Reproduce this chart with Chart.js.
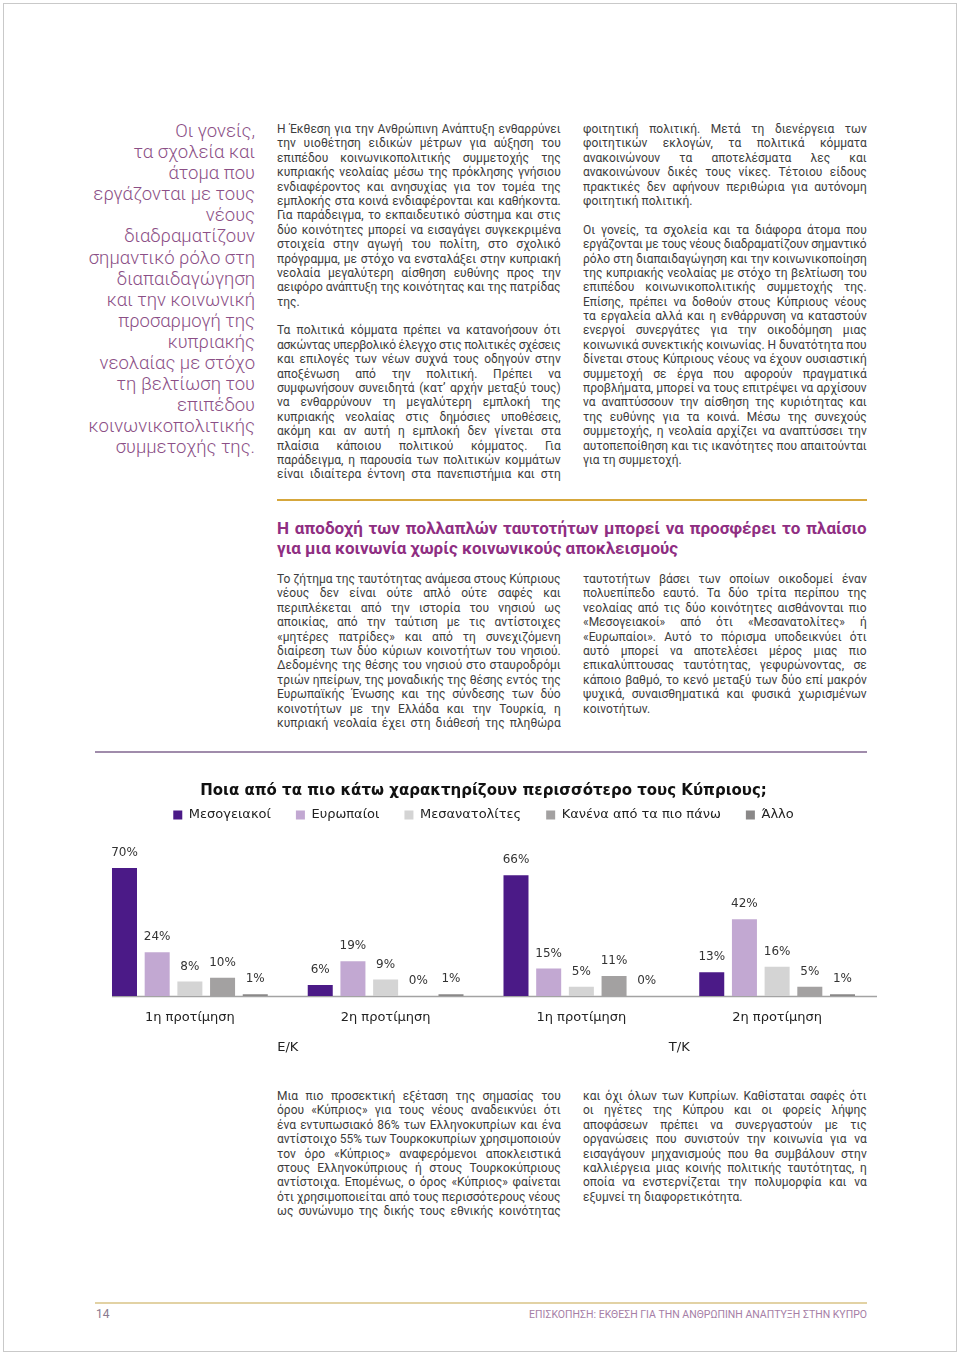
<!DOCTYPE html>
<html lang="el">
<head>
<meta charset="utf-8">
<title>Ποια από τα πιο κάτω χαρακτηρίζουν περισσότερο τους Κύπριους;</title>
<script src="https://cdn.jsdelivr.net/npm/chart.js@4.4.1/dist/chart.umd.min.js"></script>
<style>
  html, body { margin: 0; padding: 0; background: #fff; }
  body { width: 960px; height: 1356px; position: relative; overflow: hidden;
         font-family: Roboto, "Noto Sans", sans-serif; color: #3d3d3d; }
  .frame { position: absolute; left: 3px; top: 3px; width: 952px; height: 1347px; border: 1px solid #c9c9c9; }
  .quote { position: absolute; left: 40px; width: 215px; top: 121px; text-align: right;
           font-weight: 300; font-size: 18.5px; line-height: 21.1px; color: #8b4f86; white-space: nowrap; }
  .col { position: absolute; width: 284px; font-size: 12px; line-height: 14.4px; }
  .ln { white-space: nowrap; height: 14.4px; }
  .ln span { white-space: nowrap; }
  .heading { position: absolute; left: 277px; top: 518px; width: 590px; font-weight: 700;
             font-size: 17px; line-height: 20px; color: #8f2e82; }
  .heading .ln { height: 20px; }
  .rule { position: absolute; }
  .pageno { position: absolute; left: 96px; top: 1307px; font-size: 12px; color: #8a7a8e; }
  .running { position: absolute; left: 467px; width: 400px; top: 1308px; font-size: 10.5px;
             color: #a67ea6; text-align: right; white-space: nowrap; }
  #chartBox { position: absolute; left: 80px; top: 772px; width: 810px; height: 284px; }
</style>
</head>
<body>
<div class="frame"></div>

<div class="quote">Οι γονείς,<br>τα σχολεία και<br>άτομα που<br>εργάζονται με τους<br>νέους<br>διαδραματίζουν<br>σημαντικό ρόλο στη<br>διαπαιδαγώγηση<br>και την κοινωνική<br>προσαρμογή της<br>κυπριακής<br>νεολαίας με στόχο<br>τη βελτίωση του<br>επιπέδου<br>κοινωνικοπολιτικής<br>συμμετοχής της.</div>

<div class="col" id="colA" style="left:277px; top:122px;"></div>
<div class="col" id="colB" style="left:583px; top:122px;"></div>

<div class="rule" style="left:277px; top:499px; width:590px; height:2px; background:#d6a73c;"></div>

<div class="heading" id="heading"></div>

<div class="col" id="colC" style="left:277px; top:572px;"></div>
<div class="col" id="colD" style="left:583px; top:572px;"></div>

<div class="rule" style="left:95px; top:751px; width:772px; height:2px; background:#a08cab;"></div>

<div id="chartBox"><canvas id="identityChart"></canvas></div>

<div class="col" id="colE" style="left:277px; top:1089px;"></div>
<div class="col" id="colF" style="left:583px; top:1089px;"></div>

<div class="rule" style="left:95px; top:1302px; width:772px; height:2px; background:#e2d2a4;"></div>
<div class="pageno">14</div>
<div class="running" id="running">ΕΠΙΣΚΟΠΗΣΗ: ΕΚΘΕΣΗ ΓΙΑ ΤΗΝ ΑΝΘΡΩΠΙΝΗ ΑΝΑΠΤΥΞΗ ΣΤΗΝ ΚΥΠΡΟ</div>

<script>
/* =========================
   CHART DATA
========================= */
const categories = ["1η προτίμηση", "2η προτίμηση", "1η προτίμηση", "2η προτίμηση"];
const groups = ["Ε/Κ", "Τ/Κ"];

const seriesNames = ["Μεσογειακοί", "Ευρωπαίοι", "Μεσανατολίτες", "Κανένα από τα πιο πάνω", "Άλλο"];
const mediterranean = [70, 6, 66, 13];
const european = [24, 19, 15, 42];
const middleEastern = [8, 9, 5, 16];
const noneOfAbove = [10, 0, 11, 5];
const other = [1, 1, 0, 1];

const seriesColors = ["#4b1a87", "#c2a8d2", "#d4d4d4", "#a3a1a1", "#8a8888"];

/* =========================
   PAGE TEXT (one entry per printed line, "" = blank line)
========================= */
const colA = [
  "Η Έκθεση για την Ανθρώπινη Ανάπτυξη ενθαρρύνει",
  "την υιοθέτηση ειδικών μέτρων για αύξηση του",
  "επιπέδου κοινωνικοπολιτικής συμμετοχής της",
  "κυπριακής νεολαίας μέσω της πρόκλησης γνήσιου",
  "ενδιαφέροντος και ανησυχίας για τον τομέα της",
  "εμπλοκής στα κοινά ενδιαφέρονται και καθήκοντα.",
  "Για παράδειγμα, το εκπαιδευτικό σύστημα και στις",
  "δύο κοινότητες μπορεί να εισαγάγει συγκεκριμένα",
  "στοιχεία στην αγωγή του πολίτη, στο σχολικό",
  "πρόγραμμα, με στόχο να ενσταλάξει στην κυπριακή",
  "νεολαία μεγαλύτερη αίσθηση ευθύνης προς την",
  "αειφόρο ανάπτυξη της κοινότητας και της πατρίδας",
  "της.",
  "",
  "Τα πολιτικά κόμματα πρέπει να κατανοήσουν ότι",
  "ασκώντας υπερβολικό έλεγχο στις πολιτικές σχέσεις",
  "και επιλογές των νέων συχνά τους οδηγούν στην",
  "αποξένωση από την πολιτική. Πρέπει να",
  "συμφωνήσουν συνειδητά (κατ’ αρχήν μεταξύ τους)",
  "να ενθαρρύνουν τη μεγαλύτερη εμπλοκή της",
  "κυπριακής νεολαίας στις δημόσιες υποθέσεις,",
  "ακόμη και αν αυτή η εμπλοκή δεν γίνεται στα",
  "πλαίσια κάποιου πολιτικού κόμματος. Για",
  "παράδειγμα, η παρουσία των πολιτικών κομμάτων",
  "είναι ιδιαίτερα έντονη στα πανεπιστήμια και στη"
];
const colB = [
  "φοιτητική πολιτική. Μετά τη διενέργεια των",
  "φοιτητικών εκλογών, τα πολιτικά κόμματα",
  "ανακοινώνουν τα αποτελέσματα λες και",
  "ανακοινώνουν δικές τους νίκες. Τέτοιου είδους",
  "πρακτικές δεν αφήνουν περιθώρια για αυτόνομη",
  "φοιτητική πολιτική.",
  "",
  "Οι γονείς, τα σχολεία και τα διάφορα άτομα που",
  "εργάζονται με τους νέους διαδραματίζουν σημαντικό",
  "ρόλο στη διαπαιδαγώγηση και την κοινωνικοποίηση",
  "της κυπριακής νεολαίας με στόχο τη βελτίωση του",
  "επιπέδου κοινωνικοπολιτικής συμμετοχής της.",
  "Επίσης, πρέπει να δοθούν στους Κύπριους νέους",
  "τα εργαλεία αλλά και η ενθάρρυνση να καταστούν",
  "ενεργοί συνεργάτες για την οικοδόμηση μιας",
  "κοινωνικά συνεκτικής κοινωνίας. Η δυνατότητα που",
  "δίνεται στους Κύπριους νέους να έχουν ουσιαστική",
  "συμμετοχή σε έργα που αφορούν πραγματικά",
  "προβλήματα, μπορεί να τους επιτρέψει να αρχίσουν",
  "να αναπτύσσουν την αίσθηση της κυριότητας και",
  "της ευθύνης για τα κοινά. Μέσω της συνεχούς",
  "συμμετοχής, η νεολαία αρχίζει να αναπτύσσει την",
  "αυτοπεποίθηση και τις ικανότητες που απαιτούνται",
  "για τη συμμετοχή."
];
const headingLines = [
  "Η αποδοχή των πολλαπλών ταυτοτήτων μπορεί να προσφέρει το πλαίσιο",
  "για μια κοινωνία χωρίς κοινωνικούς αποκλεισμούς"
];
const colC = [
  "Το ζήτημα της ταυτότητας ανάμεσα στους Κύπριους",
  "νέους δεν είναι ούτε απλό ούτε σαφές και",
  "περιπλέκεται από την ιστορία του νησιού ως",
  "αποικίας, από την ταύτιση με τις αντίστοιχες",
  "«μητέρες πατρίδες» και από τη συνεχιζόμενη",
  "διαίρεση των δύο κύριων κοινοτήτων του νησιού.",
  "Δεδομένης της θέσης του νησιού στο σταυροδρόμι",
  "τριών ηπείρων, της μοναδικής της θέσης εντός της",
  "Ευρωπαϊκής Ένωσης και της σύνδεσης των δύο",
  "κοινοτήτων με την Ελλάδα και την Τουρκία, η",
  "κυπριακή νεολαία έχει στη διάθεσή της πληθώρα"
];
const colD = [
  "ταυτοτήτων βάσει των οποίων οικοδομεί έναν",
  "πολυεπίπεδο εαυτό. Τα δύο τρίτα περίπου της",
  "νεολαίας από τις δύο κοινότητες αισθάνονται πιο",
  "«Μεσογειακοί» από ότι «Μεσανατολίτες» ή",
  "«Ευρωπαίοι». Αυτό το πόρισμα υποδεικνύει ότι",
  "αυτό μπορεί να αποτελέσει μέρος μιας πιο",
  "επικαλύπτουσας ταυτότητας, γεφυρώνοντας, σε",
  "κάποιο βαθμό, το κενό μεταξύ των δύο επί μακρόν",
  "ψυχικά, συναισθηματικά και φυσικά χωρισμένων",
  "κοινοτήτων."
];
const colE = [
  "Μια πιο προσεκτική εξέταση της σημασίας του",
  "όρου «Κύπριος» για τους νέους αναδεικνύει ότι",
  "ένα εντυπωσιακό 86% των Ελληνοκυπρίων και ένα",
  "αντίστοιχο 55% των Τουρκοκυπρίων χρησιμοποιούν",
  "τον όρο «Κύπριος» αναφερόμενοι αποκλειστικά",
  "στους Ελληνοκύπριους ή στους Τουρκοκύπριους",
  "αντίστοιχα. Επομένως, ο όρος «Κύπριος» φαίνεται",
  "ότι χρησιμοποιείται από τους περισσότερους νέους",
  "ως συνώνυμο της δικής τους εθνικής κοινότητας"
];
const colF = [
  "και όχι όλων των Κυπρίων. Καθίσταται σαφές ότι",
  "οι ηγέτες της Κύπρου και οι φορείς λήψης",
  "αποφάσεων πρέπει να συνεργαστούν με τις",
  "οργανώσεις που συνιστούν την κοινωνία για να",
  "εισαγάγουν μηχανισμούς που θα συμβάλουν στην",
  "καλλιέργεια μιας κοινής πολιτικής ταυτότητας, η",
  "οποία να ενστερνίζεται την πολυμορφία και να",
  "εξυμνεί τη διαφορετικότητα."
];

/* =========================
   TEXT LAYOUT HELPERS
========================= */
function fillColumn(id, lines, continues) {
  const box = document.getElementById(id);
  lines.forEach((text, i) => {
    const ln = document.createElement("div");
    ln.className = "ln";
    if (text === "") { ln.innerHTML = "&nbsp;"; box.appendChild(ln); return; }
    const span = document.createElement("span");
    span.textContent = text;
    ln.appendChild(span);
    const next = lines[i + 1];
    const lastOfPara = next === "" || (next === undefined && !continues);
    ln.dataset.justify = lastOfPara ? "0" : "1";
    box.appendChild(ln);
  });
}

// justify each printed line by word spacing, squeeze letters when a line is too long
function fitLine(ln, justify) {
  const span = ln.firstChild;
  if (!span || !span.textContent.trim()) return;
  const W = ln.clientWidth;
  const w = span.getBoundingClientRect().width;
  const text = span.textContent;
  if (w > W) {
    ln.style.letterSpacing = (-(w - W + 0.5) / text.length) + "px";
  } else if (justify) {
    const gaps = (text.match(/ /g) || []).length;
    if (gaps > 0) ln.style.wordSpacing = ((W - w - 0.3) / gaps) + "px";
  }
}

fillColumn("colA", colA, true);
fillColumn("colB", colB, false);
fillColumn("colC", colC, true);
fillColumn("colD", colD, false);
fillColumn("colE", colE, true);
fillColumn("colF", colF, false);
fillColumn("heading", headingLines, false);
document.querySelector("#heading .ln").dataset.justify = "1";

function layoutText() {
  document.querySelectorAll(".ln").forEach(ln => fitLine(ln, ln.dataset.justify === "1"));
  const run = document.getElementById("running");
  const rs = document.createElement("span");
  rs.textContent = run.textContent;
  run.textContent = "";
  run.appendChild(rs);
  const over = rs.getBoundingClientRect().width - 352;
  if (over > 0) run.style.letterSpacing = (-over / rs.textContent.length) + "px";
}

/* =========================
   CHART PLUGINS
========================= */
const valueLabels = {
  id: "valueLabels",
  afterDatasetsDraw(chart) {
    const { ctx } = chart;
    ctx.save();
    ctx.font = '12px "DejaVu Sans"';
    ctx.fillStyle = "#333";
    ctx.textAlign = "center";
    ctx.textBaseline = "middle";
    chart.data.datasets.forEach((ds, i) => {
      chart.getDatasetMeta(i).data.forEach((bar, j) => {
        ctx.fillText(ds.data[j] + "%", bar.x, bar.y - 15);
      });
    });
    ctx.restore();
  }
};

// axis line starts at the first bar, as in the print
const baseLine = {
  id: "baseLine",
  beforeDatasetsDraw(chart) {
    const { ctx, chartArea } = chart;
    const first = chart.getDatasetMeta(0).data[0];
    const y = chart.scales.y.getPixelForValue(0);
    ctx.save();
    ctx.strokeStyle = "#a3a3a3";
    ctx.lineWidth = 1.5;
    ctx.beginPath();
    ctx.moveTo(first.x - first.width / 2, y + 0.5);
    ctx.lineTo(chartArea.right + 2, y + 0.5);
    ctx.stroke();
    ctx.restore();
  }
};

/* =========================
   CHART
========================= */
const seriesValues = [mediterranean, european, middleEastern, noneOfAbove, other];

const datasets = seriesNames.map((name, i) => ({
  label: name,
  data: seriesValues[i],
  backgroundColor: seriesColors[i],
  borderWidth: 0,
  barPercentage: 0.765,
  categoryPercentage: 0.835
}));

const tickFont = { family: "DejaVu Sans", size: 13 };

new Chart(document.getElementById("identityChart"), {
  type: "bar",
  data: { labels: categories, datasets },
  options: {
    responsive: true,
    maintainAspectRatio: false,
    animation: false,
    events: [],
    layout: { padding: { left: 12, right: 15, top: 0, bottom: 0 } },
    plugins: {
      tooltip: { enabled: false },
      title: {
        display: true,
        text: "Ποια από τα πιο κάτω χαρακτηρίζουν περισσότερο τους Κύπριους;",
        color: "#111",
        font: { family: "DejaVu Sans", size: 15, weight: "bold" },
        padding: { top: 10, bottom: -16.5 }
      },
      legend: {
        display: true,
        position: "top",
        labels: {
          color: "#222",
          font: { family: "DejaVu Sans", size: 13 },
          boxWidth: 9,
          boxHeight: 9,
          padding: 25
        }
      }
    },
    scales: {
      x: {
        grid: { display: false, drawTicks: false },
        border: { display: false },
        ticks: { color: "#222", font: tickFont, padding: 14 },
        afterFit(scale) { scale.height = 30; }
      },
      x2: {
        type: "category",
        position: "bottom",
        labels: groups,
        grid: { display: false, drawTicks: false },
        border: { display: false },
        ticks: { color: "#222", font: tickFont, padding: 14 },
        afterFit(scale) { scale.height = 30; }
      },
      y: {
        display: false,
        min: 0,
        max: 90
      }
    }
  },
  plugins: [baseLine, valueLabels]
});

if (document.fonts && document.fonts.ready) {
  document.fonts.ready.then(layoutText);
} else {
  layoutText();
}
</script>
</body>
</html>
